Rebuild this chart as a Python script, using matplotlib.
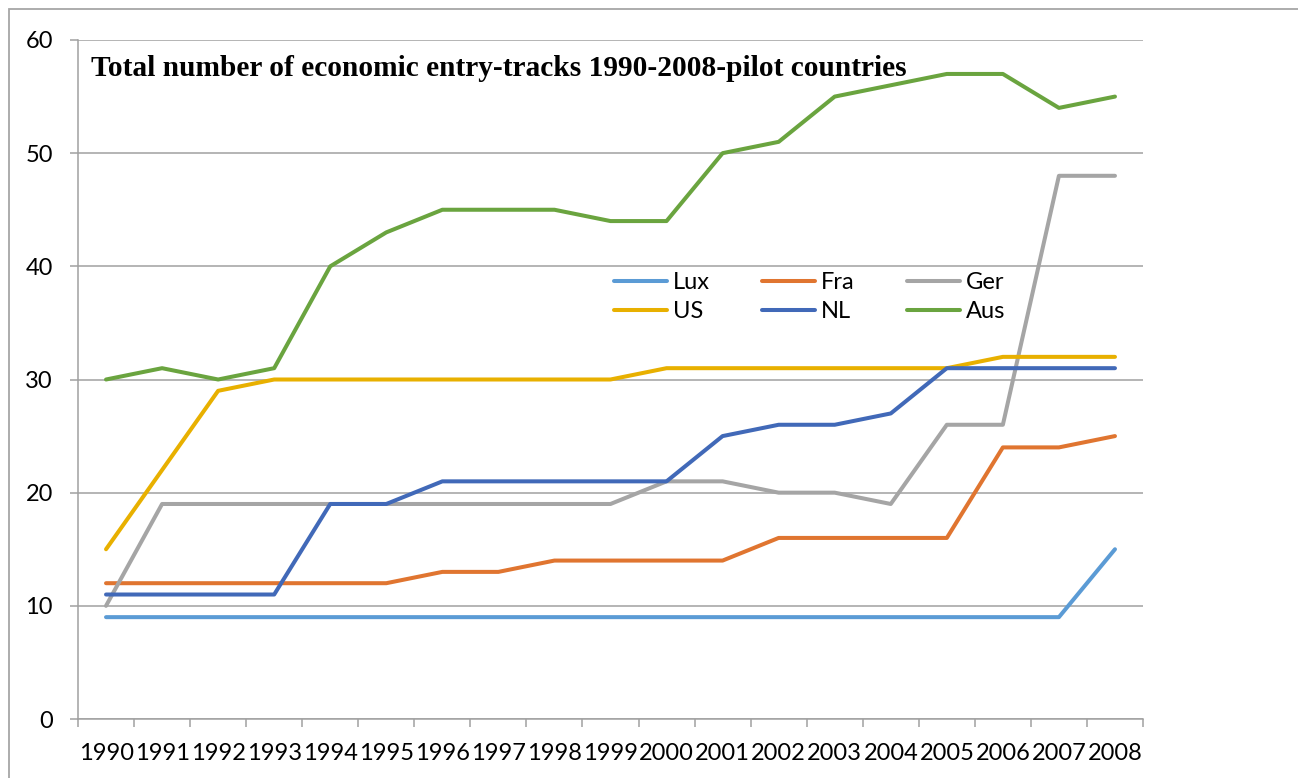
import matplotlib
matplotlib.use("Agg")
import matplotlib.pyplot as plt
from matplotlib.patches import Rectangle

years = [str(y) for y in range(1990, 2009)]

lux = [9, 9, 9, 9, 9, 9, 9, 9, 9, 9, 9, 9, 9, 9, 9, 9, 9, 9, 15]
fra = [12, 12, 12, 12, 12, 12, 13, 13, 14, 14, 14, 14, 16, 16, 16, 16, 24, 24, 25]
ger = [10, 19, 19, 19, 19, 19, 19, 19, 19, 19, 21, 21, 20, 20, 19, 26, 26, 48, 48]
us = [15, 22, 29, 30, 30, 30, 30, 30, 30, 30, 31, 31, 31, 31, 31, 31, 32, 32, 32]
nl = [11, 11, 11, 11, 19, 19, 21, 21, 21, 21, 21, 25, 26, 26, 27, 31, 31, 31, 31]
aus = [30, 31, 30, 31, 40, 43, 45, 45, 45, 44, 44, 50, 51, 55, 56, 57, 57, 54, 55]

series = [("Lux", lux, "#5B9BD5"), ("Fra", fra, "#E07530"),
          ("Ger", ger, "#A5A5A5"), ("US", us, "#E8B000"),
          ("NL", nl, "#4169B8"), ("Aus", aus, "#6AA43F")]

W, H = 1298, 778
fig = plt.figure(figsize=(W / 100, H / 100), dpi=100)
ax = fig.add_axes([78 / W, 1 - 719 / H, (1143 - 78) / W, (719 - 40) / H])

# outer chart border (partly cropped in the original)
fig.add_artist(Rectangle((9 / W, -0.1), 2, 1 - 9 / H + 0.1, transform=fig.transFigure,
                         fill=False, edgecolor="#A6A6A6", lw=1.3, clip_on=False))

lines = {}
x = list(range(len(years)))
for name, vals, col in series:
    ln, = ax.plot(x, vals, color=col, lw=2.9, label=name, solid_capstyle="round",
                  solid_joinstyle="round", zorder=3)
    lines[name] = ln

ax.set_xlim(-0.5, len(years) - 0.5)
ax.set_ylim(0, 60)
ax.set_yticks(range(0, 61, 10))
ax.grid(axis="y", color="#A0A0A0", lw=1.1)
ax.set_axisbelow(True)

for s in ["top", "right"]:
    ax.spines[s].set_visible(False)
for s in ["left", "bottom"]:
    ax.spines[s].set_color("#A0A0A0")
    ax.spines[s].set_linewidth(1.1)

tick_font = "Lato"
fs = 17
ax.set_xticks([i - 0.5 for i in range(len(years) + 1)])
ax.set_xticklabels([])
ax.set_xticks(x, minor=True)
ax.set_xticklabels(years, minor=True, fontsize=fs, family=tick_font)
ax.tick_params(axis="x", which="major", length=6, color="#A0A0A0", width=1.1)
ax.tick_params(axis="x", which="minor", length=0, pad=17)
ax.tick_params(axis="y", length=6, color="#A0A0A0", width=1.1, pad=12, labelsize=fs)
for t in ax.get_yticklabels():
    t.set_family(tick_font)

fig.text(91 / W, 1 - 76 / H, "Total number of economic entry-tracks 1990-2008-pilot countries",
         family="Liberation Serif", fontweight="bold", fontsize=21.2, ha="left", va="baseline")

order = ["Lux", "US", "Fra", "NL", "Ger", "Aus"]
ax.legend([lines[n] for n in order], order, ncol=3, frameon=False,
          loc="upper left", bbox_to_anchor=(614 / W, 1 - 272 / H),
          bbox_transform=fig.transFigure, borderpad=0, borderaxespad=0,
          handlelength=2.25, handletextpad=0.25, columnspacing=2.2,
          labelspacing=0.33, prop={"family": tick_font, "size": fs})

fig.savefig("out.png", dpi=100)
